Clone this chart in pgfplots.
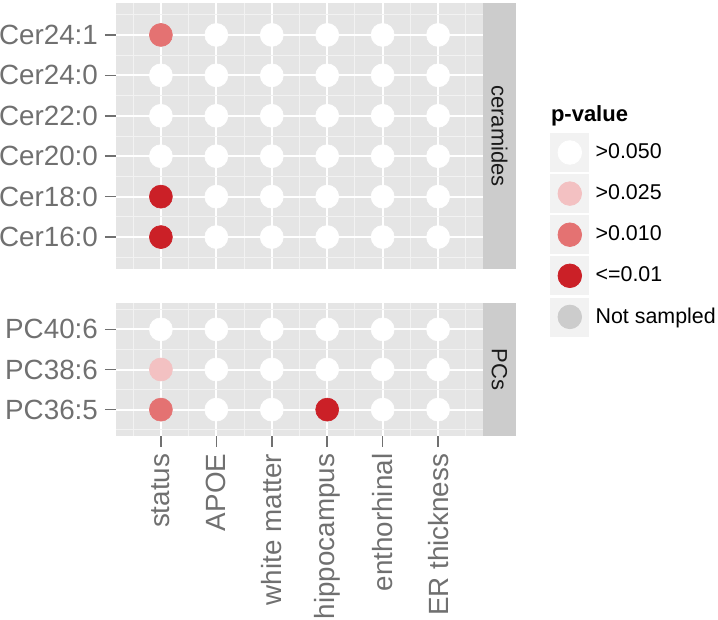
\documentclass[border=0pt]{standalone}
\usepackage{fontspec}
\setmainfont{Liberation Sans}
\usepackage{pgfplots}
\pgfplotsset{compat=1.18}

\definecolor{panelbg}{HTML}{E5E5E5}
\definecolor{minorgrid}{HTML}{F2F2F2}
\definecolor{stripbg}{HTML}{CCCCCC}
\definecolor{axtext}{HTML}{707070}
\definecolor{keybg}{HTML}{F2F2F2}
\definecolor{pnone}{HTML}{FFFFFF}
\definecolor{plow}{HTML}{F3C1C2}
\definecolor{pmid}{HTML}{E47272}
\definecolor{phigh}{HTML}{CB2027}
\definecolor{pna}{HTML}{CCCCCC}

\pgfplotsset{
  facet/.style={
    scale only axis, width=183.5pt,
    xmin=0.19, xmax=6.81,
    axis background/.style={fill=panelbg},
    axis line style={draw=none},
    grid=both,
    major grid style={white, line width=1pt},
    minor grid style={minorgrid, line width=0.5pt},
    xtick={1,...,6}, minor xtick={0.5,1.5,...,6.5},
    tick align=outside, ytick pos=left, xtick pos=bottom,
    major tick length=5.5pt, minor tick length=0pt,
    tick style={axtext, line width=0.8pt},
    tick label style={font=\fontsize{13.9}{15}\selectfont, text=axtext},
  },
  dot/.style={only marks, mark=*, mark size=5.75pt, color=#1,
    mark options={draw=#1, fill=#1, line width=0.3pt}, forget plot},
  key/.style={legend image code/.code={
    \fill[keybg] (0pt,-9.5pt) rectangle (19pt,9.5pt);
    \fill[#1] (9.5pt,0pt) circle (5.9pt);}},
}

\begin{document}
\begin{tikzpicture}
\path[use as bounding box] (0,0) rectangle (359pt,-310pt);

% ceramides panel
\begin{axis}[facet,
  at={(58pt,-1.5pt)}, anchor=north west, height=133pt,
  ymin=0.21, ymax=6.79,
  ytick={1,...,6}, minor ytick={0.5,1.5,...,6.5},
  yticklabels={Cer16:0,Cer18:0,Cer20:0,Cer22:0,Cer24:0,Cer24:1},
  xticklabels={}, xtick style={draw=none},
  legend style={at={(1.1826,0.5124)}, anchor=north west, draw=none, fill=none,
    inner sep=0pt, row sep=1.15pt, column sep=3.2pt,
    nodes={inner sep=0pt, font=\fontsize{10.7}{13}\selectfont}},
  legend cell align=left,
]
\addplot[dot=pnone] coordinates {
  (1,3)(1,4)(1,5)
  (2,1)(2,2)(2,3)(2,4)(2,5)(2,6)
  (3,1)(3,2)(3,3)(3,4)(3,5)(3,6)
  (4,1)(4,2)(4,3)(4,4)(4,5)(4,6)
  (5,1)(5,2)(5,3)(5,4)(5,5)(5,6)
  (6,1)(6,2)(6,3)(6,4)(6,5)(6,6)
};
\addplot[dot=pmid] coordinates {(1,6)};
\addplot[dot=phigh] coordinates {(1,1)(1,2)};
\addlegendimage{key=pnone}\addlegendentry{>0.050}
\addlegendimage{key=plow}\addlegendentry{>0.025}
\addlegendimage{key=pmid}\addlegendentry{>0.010}
\addlegendimage{key=phigh}\addlegendentry{<=0.01}
\addlegendimage{key=pna}\addlegendentry{Not sampled}
\end{axis}

% PCs panel
\begin{axis}[facet,
  at={(58pt,-151.65pt)}, anchor=north west, height=66.2pt,
  ymin=0.35, ymax=3.65,
  ytick={1,2,3}, minor ytick={0.5,1.5,2.5,3.5},
  yticklabels={PC36:5,PC38:6,PC40:6},
  xticklabels={status,APOE,white matter,hippocampus,enthorhinal,ER thickness},
  x tick label style={rotate=90, anchor=east},
]
\addplot[dot=pnone] coordinates {
  (1,3)
  (2,1)(2,2)(2,3)
  (3,1)(3,2)(3,3)
  (4,2)(4,3)
  (5,1)(5,2)(5,3)
  (6,1)(6,2)(6,3)
};
\addplot[dot=plow] coordinates {(1,2)};
\addplot[dot=pmid] coordinates {(1,1)};
\addplot[dot=phigh] coordinates {(4,1)};
\end{axis}

% facet strips
\fill[stripbg] (241.5pt,-1.5pt) rectangle (258pt,-134.5pt);
\node[rotate=-90, text={rgb,255:red,26;green,26;blue,26}, font=\fontsize{11}{13}\selectfont]
  at (249.75pt,-68pt) {ceramides};
\fill[stripbg] (241.5pt,-151.65pt) rectangle (258pt,-217.85pt);
\node[rotate=-90, text={rgb,255:red,26;green,26;blue,26}, font=\fontsize{11}{13}\selectfont]
  at (249.75pt,-184.75pt) {PCs};

% legend title
\node[anchor=west, font=\bfseries\fontsize{11}{13}\selectfont, inner sep=0pt]
  at (275.3pt,-58pt) {p-value};
\end{tikzpicture}
\end{document}
